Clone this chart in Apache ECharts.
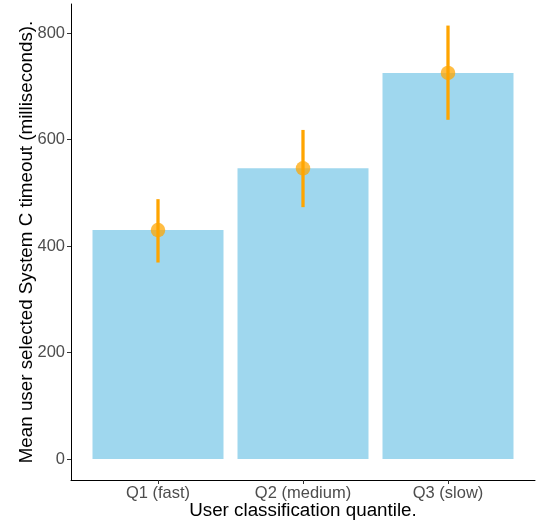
<!DOCTYPE html>
<html>
<head>
<meta charset="utf-8">
<script src="https://cdn.jsdelivr.net/npm/echarts@6/dist/echarts.min.js"></script>
<style>
html,body{margin:0;padding:0;background:#fff;}
#chart{width:537px;height:522px;}
</style>
</head>
<body>
<div id="chart"></div>
<script>
const categories = ['Q1 (fast)', 'Q2 (medium)', 'Q3 (slow)'];
const meanValues = [430, 546, 725];
const lowerValues = [369, 473, 637];
const upperValues = [488, 618, 814];
const yTicks = [0, 200, 400, 600, 800];

const xPos = categories.map((c, i) => i + 1);
const barData = xPos.map((x, i) => [x, meanValues[i]]);
const errData = xPos.map((x, i) => [x, lowerValues[i], upperValues[i]]);

const chart = echarts.init(document.getElementById('chart'), null, {renderer: 'canvas'});
const font = 'Liberation Sans, Arial, Helvetica, sans-serif';
chart.setOption({
  animation: false,
  backgroundColor: '#ffffff',
  grid: {left: 71, right: 2, top: 4, bottom: 42, containLabel: false, outerBoundsMode: 'none'},
  xAxis: {
    type: 'value', min: 0.4, max: 3.6,
    name: 'User classification quantile.',
    nameLocation: 'middle', nameGap: 21.5, nameMoveOverlap: false,
    nameTextStyle: {color: '#000', fontSize: 18.8, fontFamily: font},
    axisLine: {show: true, onZero: false, lineStyle: {color: '#000', width: 1}},
    axisTick: {show: true, customValues: xPos, length: 4, lineStyle: {color: '#333'}},
    axisLabel: {customValues: xPos, formatter: v => categories[Math.round(v) - 1], color: '#4D4D4D', fontSize: 16.5, fontFamily: font, margin: 5},
    splitLine: {show: false}
  },
  yAxis: {
    type: 'value', min: -39.4, max: 854.5,
    name: 'Mean user selected System C timeout (milliseconds).',
    nameLocation: 'middle', nameGap: 35, nameMoveOverlap: false,
    nameTextStyle: {color: '#000', fontSize: 18.8, fontFamily: font},
    axisLine: {show: true, onZero: false, lineStyle: {color: '#000', width: 1}},
    axisTick: {show: true, customValues: yTicks, length: 4, lineStyle: {color: '#333'}},
    axisLabel: {customValues: yTicks, color: '#4D4D4D', fontSize: 16.5, fontFamily: font, margin: 6},
    splitLine: {show: false}
  },
  series: [
    {
      type: 'bar', data: barData, barWidth: 131,
      itemStyle: {color: '#9FD7EE'}, z: 1
    },
    {
      type: 'custom', data: errData, z: 2,
      renderItem: function (params, api) {
        const p1 = api.coord([api.value(0), api.value(1)]);
        const p2 = api.coord([api.value(0), api.value(2)]);
        return {type: 'line', shape: {x1: p1[0], y1: p1[1], x2: p2[0], y2: p2[1]},
          style: {stroke: '#FFA500', lineWidth: 3.3}};
      }
    },
    {
      type: 'scatter', data: barData, symbolSize: 14.5, z: 3,
      itemStyle: {color: 'rgba(255,165,0,0.92)'}
    }
  ]
});
</script>
</body>
</html>
